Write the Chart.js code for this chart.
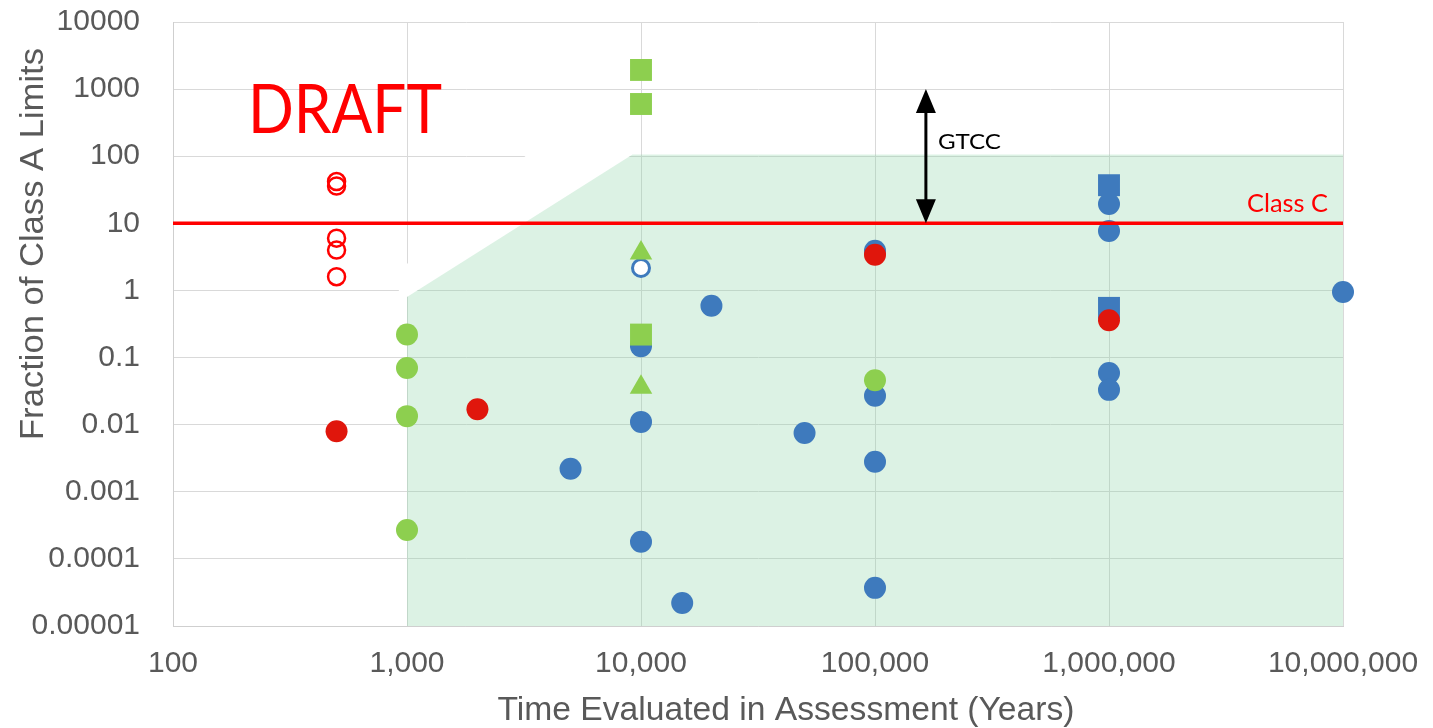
<!DOCTYPE html>
<html>
<head>
<meta charset="utf-8">
<script src="https://cdn.jsdelivr.net/npm/chart.js@4/dist/chart.umd.min.js"></script>
<style>
  html, body { margin: 0; padding: 0; background: #fff; }
  #wrap { width: 1433px; height: 728px; }
</style>
</head>
<body>
<div id="wrap"><canvas id="myChart" width="1433" height="728"></canvas></div>
<script>
// tick values
const xTicks = [100, 1000, 10000, 100000, 1000000, 10000000];
const yTicks = [10000, 1000, 100, 10, 1, 0.1, 0.01, 0.001, 0.0001, 0.00001];

// series
const redOpenX = [500, 500, 500, 500, 500];
const redOpenY = [42, 36, 6, 4, 1.6];
const redFilledX = [500, 2000, 100000, 1000000];
const redFilledY = [0.008, 0.017, 3.4, 0.36];
const greenCircleX = [1000, 1000, 1000, 1000, 100000];
const greenCircleY = [0.22, 0.07, 0.0134, 0.00027, 0.046];
const greenSquareX = [10000, 10000, 10000];
const greenSquareY = [1930, 600, 0.22];
const greenTriX = [10000, 10000];
const greenTriY = [3.6, 0.036];
const blueCircleX = [5000, 10000, 10000, 10000, 15000, 20000, 50000, 100000, 100000, 100000, 100000, 1000000, 1000000, 1000000, 1000000, 10000000];
const blueCircleY = [0.0022, 0.148, 0.011, 0.00018, 0.000022, 0.59, 0.0075, 3.9, 0.027, 0.0028, 0.000037, 19.4, 7.7, 0.059, 0.033, 0.95];
const blueSquareX = [1000000, 1000000];
const blueSquareY = [37, 0.55];
const blueOpenX = [10000];
const blueOpenY = [2.16];

// Class C limit line and GTCC arrow
const classCX = [100, 10000000];
const classCY = [10, 10];
const arrowX = 165000;
const arrowTop = 1000;
const arrowBottom = 10;

// shaded region and the white cut beside it
const regionX = [1000, 1000, 9200, 10000000, 10000000];
const regionY = [0.00001, 0.8, 106, 106, 0.00001];
const bandX = [3260, 9200, 1000, 915, 962];
const bandY = [106, 106, 0.8, 0.85, 2.2];

function pts(xs, ys) {
  return xs.map((x, i) => ({ x: x, y: ys[i] }));
}

const blue = '#3E7ABD';
const green = '#8DCF4F';
const grey = '#595959';

function marks(label, xs, ys, style, radius, color, extra) {
  return Object.assign({
    label: label,
    data: pts(xs, ys),
    pointStyle: style,
    pointRadius: radius,
    backgroundColor: color,
    borderColor: color,
    borderWidth: 0,
    showLine: false,
    clip: false
  }, extra || {});
}

// squeeze text to a measured width
function fitText(ctx, text, x, y, size, width, align, color, family) {
  ctx.save();
  ctx.font = size + 'px ' + (family || '"Liberation Sans", Arial, sans-serif');
  ctx.fillStyle = color;
  ctx.textBaseline = 'alphabetic';
  ctx.textAlign = 'left';
  const w = ctx.measureText(text).width;
  const k = width / w;
  let left = x;
  if (align === 'center') left = x - width / 2;
  if (align === 'right') left = x - width;
  ctx.translate(left, y);
  ctx.scale(k, 1);
  ctx.fillText(text, 0, 0);
  ctx.restore();
}

const extras = {
  id: 'extras',
  afterDatasetsDraw(chart) {
    const ctx = chart.ctx;
    const xs = chart.scales.x, ys = chart.scales.y;
    const ax = xs.getPixelForValue(arrowX);
    const at = ys.getPixelForValue(arrowTop);
    const ab = ys.getPixelForValue(arrowBottom);
    const head = 24, hw = 10;
    ctx.save();
    ctx.strokeStyle = '#000';
    ctx.fillStyle = '#000';
    ctx.lineWidth = 3;
    ctx.beginPath();
    ctx.moveTo(ax, at + head - 2);
    ctx.lineTo(ax, ab - head + 2);
    ctx.stroke();
    ctx.beginPath();
    ctx.moveTo(ax, at);
    ctx.lineTo(ax - hw, at + head);
    ctx.lineTo(ax + hw, at + head);
    ctx.closePath();
    ctx.fill();
    ctx.beginPath();
    ctx.moveTo(ax, ab);
    ctx.lineTo(ax - hw, ab - head);
    ctx.lineTo(ax + hw, ab - head);
    ctx.closePath();
    ctx.fill();
    ctx.restore();

    const lato = 'Lato, "Open Sans", sans-serif';
    fitText(ctx, 'GTCC', ax + 12, 149, 22, 63, 'left', '#000', lato);
    fitText(ctx, 'Class C', 1328, 212, 25, 81, 'right', '#FF0000', lato);
    fitText(ctx, 'DRAFT', 248, 133, 67, 194, 'left', '#FF0000', lato);
  },
  afterDraw(chart) {
    const ctx = chart.ctx;
    fitText(ctx, 'Time Evaluated in Assessment (Years)', 786, 720, 34, 577, 'center', grey);
    ctx.save();
    ctx.translate(43, 244);
    ctx.rotate(-Math.PI / 2);
    fitText(ctx, 'Fraction of Class A Limits', 0, 0, 34, 392, 'center', grey);
    ctx.restore();
  }
};

const ctx = document.getElementById('myChart');

new Chart(ctx, {
  type: 'scatter',
  data: {
    datasets: [
      { label: 'Class C', data: pts(classCX, classCY), showLine: true, borderColor: '#FF0000', borderWidth: 3.5, pointRadius: 0, fill: false },
      marks('red filled', redFilledX, redFilledY, 'circle', 11, '#E0160C'),
      marks('red open', redOpenX, redOpenY, 'circle', 8.5, '#FF0000', { backgroundColor: 'rgba(255,255,255,0)', borderWidth: 2.5 }),
      marks('green triangles', greenTriX, greenTriY, 'triangle', 13, green),
      marks('green squares', greenSquareX, greenSquareY, 'rect', 15.5, green),
      marks('green circles', greenCircleX, greenCircleY, 'circle', 11, green),
      marks('blue open', blueOpenX, blueOpenY, 'circle', 8.5, blue, { backgroundColor: '#fff', borderWidth: 3 }),
      marks('blue squares', blueSquareX, blueSquareY, 'rect', 15.5, blue),
      marks('blue circles', blueCircleX, blueCircleY, 'circle', 11, blue),
      { label: 'region', data: pts(regionX, regionY), showLine: true, fill: 'shape', backgroundColor: 'rgba(138,212,165,0.3)', borderWidth: 0, borderColor: 'rgba(0,0,0,0)', pointRadius: 0, tension: 0 },
      { label: 'band', data: pts(bandX, bandY), showLine: true, fill: 'shape', backgroundColor: '#ffffff', borderWidth: 0, borderColor: 'rgba(0,0,0,0)', pointRadius: 0, tension: 0 }
    ]
  },
  options: {
    responsive: false,
    animation: false,
    events: [],
    layout: { padding: { top: 22, right: 90, left: 0, bottom: 0 } },
    scales: {
      x: {
        type: 'logarithmic',
        min: 100,
        max: 10000000,
        afterBuildTicks: s => { s.ticks = xTicks.map(v => ({ value: v })); },
        afterFit: s => { s.height = 102; s.paddingLeft = 0; s.paddingRight = 0; },
        ticks: {
          padding: 20,
          color: grey,
          font: { family: '"Liberation Sans", Arial, sans-serif', size: 30 },
          maxRotation: 0,
          autoSkip: false,
          callback: v => Number(v).toLocaleString('en-US')
        },
        grid: { color: '#D9D9D9', drawTicks: false },
        border: { color: '#CFCFCF' }
      },
      y: {
        type: 'logarithmic',
        min: 0.00001,
        max: 10000,
        afterBuildTicks: s => { s.ticks = yTicks.map(v => ({ value: v })); },
        afterFit: s => { s.width = 173; s.paddingTop = 0; s.paddingBottom = 0; },
        ticks: {
          padding: 33,
          color: grey,
          font: { family: '"Liberation Sans", Arial, sans-serif', size: 30 },
          autoSkip: false,
          callback: v => {
            const i = yTicks.findIndex(t => Math.abs(Math.log10(t) - Math.log10(v)) < 1e-6);
            return i >= 0 ? String(yTicks[i]).replace('1e-5', '0.00001') : '';
          }
        },
        grid: { color: '#D9D9D9', drawTicks: false },
        border: { color: '#CFCFCF' }
      }
    },
    plugins: { legend: { display: false }, tooltip: { enabled: false } }
  },
  plugins: [extras]
});
</script>
</body>
</html>
